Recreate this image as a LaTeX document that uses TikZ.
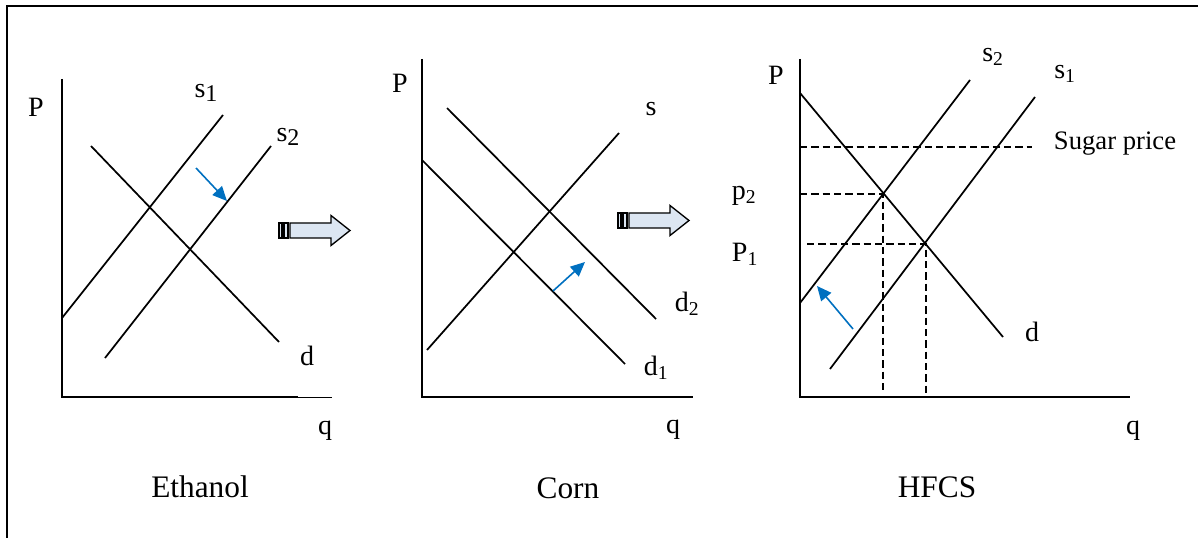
\documentclass[tikz,border=0pt]{standalone}
\usepackage{fontspec}
\setmainfont{Liberation Serif}
\usepackage{tikz}
\usetikzlibrary{arrows.meta}
\definecolor{shiftblue}{HTML}{0070C0}
\definecolor{arrowfill}{HTML}{DCE6F2}
\tikzset{
  axis/.style={line width=1.7pt},
  curve/.style={line width=1.3pt},
  guide/.style={line width=1pt,dash pattern=on 5.5pt off 3pt},
  shiftarrow/.style={-{Triangle[length=3.8mm,width=3.4mm]},line width=1.2pt,color=shiftblue},
  lbl/.style={font=\fontsize{21}{24}\selectfont,inner sep=0pt},
  caption/.style={font=\fontsize{23.5}{28}\selectfont,inner sep=0pt},
  flow/.style={draw=black,fill=arrowfill,line width=1pt,line join=miter},
}
% larger subscript as in the first panel
\newcommand{\bigsub}[1]{\raisebox{-0.35ex}{\fontsize{18}{20}\selectfont #1}}
% striped block arrow, #1 = tail end
\newcommand{\stripedarrow}[1]{%
  \begin{scope}[shift={(#1)}]
    \draw[flow] (0,-7.5) rectangle (3,7.5);
    \draw[flow] (5,-7.5) rectangle (9,7.5);
    \draw[flow] (11,-7.5) -- (52,-7.5) -- (52,-15) -- (71,0) -- (52,15) -- (52,7.5) -- (11,7.5) -- cycle;
  \end{scope}}

\begin{document}
\begin{tikzpicture}[x=0.75pt,y=-0.75pt]
  \useasboundingbox (0,0) rectangle (1198,538);
  \draw[line width=1.6pt] (7,538) -- (7,6) -- (1198,6);

  % Ethanol market
  \draw[axis] (62,79) -- (62,397) -- (298,397);
  \draw[line width=0.7pt] (298,397) -- (332,397);
  \coordinate (eS1lo) at (62,318);  \coordinate (eS1hi) at (223,115);
  \coordinate (eS2lo) at (105,358); \coordinate (eS2hi) at (271,146);
  \coordinate (eDhi) at (91,146);   \coordinate (eDlo) at (279,342);
  \draw[curve] (eS1lo) -- (eS1hi);
  \draw[curve] (eS2lo) -- (eS2hi);
  \draw[curve] (eDhi) -- (eDlo);
  \coordinate (eFrom) at (196,168); \coordinate (eTo) at (227,201);
  \draw[shiftarrow] (eFrom) -- (eTo);
  \node[lbl] (eP) at (36,107) {P};
  \node[lbl] (eS1) at (206,93) {s\bigsub{1}};
  \node[lbl] (eS2) at (288,137) {s\bigsub{2}};
  \node[lbl] (eD) at (307,356) {d};
  \node[lbl] (eQ) at (325,431) {q};
  \node[caption] (eName) at (200,487) {Ethanol};

  \stripedarrow{279,230.5}

  % Corn market
  \draw[axis] (422,59) -- (422,397) -- (693,397);
  \coordinate (cSlo) at (427,350);  \coordinate (cShi) at (619,133);
  \coordinate (cD2hi) at (447,108); \coordinate (cD2lo) at (656,319);
  \coordinate (cD1hi) at (422,160); \coordinate (cD1lo) at (625,364);
  \draw[curve] (cSlo) -- (cShi);
  \draw[curve] (cD2hi) -- (cD2lo);
  \draw[curve] (cD1hi) -- (cD1lo);
  \coordinate (cFrom) at (553,291); \coordinate (cTo) at (585,262);
  \draw[shiftarrow] (cFrom) -- (cTo);
  \node[lbl] (cP) at (400,83) {P};
  \node[lbl] (cS) at (651,109) {s};
  \node[lbl] (cD2) at (687,304) {d\textsubscript{2}};
  \node[lbl] (cD1) at (656,368) {d\textsubscript{1}};
  \node[lbl] (cQ) at (673,430) {q};
  \node[caption] (cName) at (568,488) {Corn};

  \stripedarrow{618,220.5}

  % HFCS market
  \draw[axis] (800,59) -- (800,397) -- (1130,397);
  \coordinate (hDhi) at (800,93);   \coordinate (hDlo) at (1003,337);
  \coordinate (hS2lo) at (800,303); \coordinate (hS2hi) at (970,80);
  \coordinate (hS1lo) at (830,369); \coordinate (hS1hi) at (1035,97);
  \coordinate (hE2) at (883,194);   \coordinate (hE1) at (926,244);
  \draw[guide] (800,147) -- (1032,147);
  \draw[guide] (800,194) -- (hE2) -- (883,392);
  \draw[guide] (807,244) -- (hE1) -- (926,397);
  \draw[curve] (hDhi) -- (hDlo);
  \draw[curve] (hS2lo) -- (hS2hi);
  \draw[curve] (hS1lo) -- (hS1hi);
  \coordinate (hFrom) at (853,329); \coordinate (hTo) at (817,286);
  \draw[shiftarrow] (hFrom) -- (hTo);
  \node[lbl] (hP) at (776,75) {P};
  \node[lbl] (hS2) at (993,57) {s\textsubscript{2}};
  \node[lbl] (hS1) at (1065,74) {s\textsubscript{1}};
  \node[lbl,font=\fontsize{20}{24}\selectfont] (hSugar) at (1115,144) {Sugar price};
  \node[lbl] (hp2) at (744,196) {p\textsubscript{2}};
  \node[lbl] (hP1) at (745,254) {P\textsubscript{1}};
  \node[lbl] (hD) at (1032,332) {d};
  \node[lbl] (hQ) at (1133,431) {q};
  \node[caption] (hName) at (937,487) {HFCS};
\end{tikzpicture}
\end{document}
